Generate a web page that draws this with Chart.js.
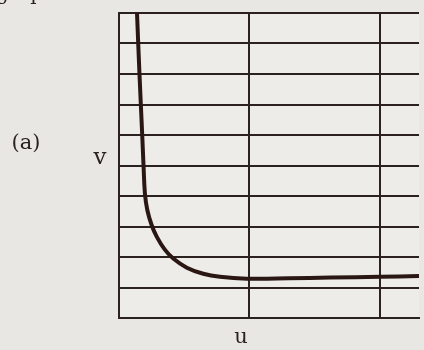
<!DOCTYPE html>
<html>
<head>
<meta charset="utf-8">
<script src="https://cdn.jsdelivr.net/npm/chart.js@4"></script>
<style>
  html, body { margin: 0; padding: 0; background: #e9e7e4; }
  #wrap { position: relative; width: 424px; height: 350px; overflow: hidden; }
  .lbl { position: absolute; font-family: "DejaVu Serif", serif; color: #2a2220; transform: translate(-50%, -50%); white-space: nowrap; }
</style>
</head>
<body>
<div id="wrap">
  <canvas id="myChart" width="424" height="350"></canvas>
  <div class="lbl" style="left:26px; top:-7px; font-size:20px;">graph</div>
  <div class="lbl" style="left:26px; top:142px; font-size:21px;">(a)</div>
  <div class="lbl" style="left:100px; top:156px; font-size:23px;">v</div>
  <div class="lbl" style="left:241px; top:336px; font-size:21px;">u</div>
</div>
<script>
// curve, u across, v up
const uValues = [0.138, 0.157, 0.178, 0.188, 0.199, 0.217, 0.25, 0.29, 0.35, 0.416, 0.52, 0.646, 0.774, 0.98, 1.3, 1.62, 2.0, 2.3];
const vValues = [10, 8, 6, 5, 4.07, 3.54, 3.05, 2.66, 2.25, 1.95, 1.65, 1.45, 1.35, 1.29, 1.3, 1.33, 1.35, 1.38];

const uTicks = [0, 1, 2];
const vTicks = [0, 1, 2, 3, 4, 5, 6, 7, 8, 9, 10];

const points = uValues.map((u, i) => ({x: u, y: vValues[i]}));

const lineColor = '#2b221f';

document.addEventListener('DOMContentLoaded', () => {
    const ctx = document.getElementById('myChart');
    new Chart(ctx, {
        type: 'line',
        data: {
            datasets: [{
                data: points,
                borderColor: '#2a1714',
                borderWidth: 4,
                pointRadius: 0,
                tension: 0.4,
                fill: false
            }]
        },
        options: {
            responsive: false,
            animation: false,
            events: [],
            layout: { padding: { left: 119, right: 5, top: 13, bottom: 32 } },
            plugins: { legend: { display: false }, tooltip: { enabled: false } },
            scales: {
                x: {
                    type: 'linear',
                    min: 0,
                    max: 2.3,
                    afterBuildTicks: s => { s.ticks = uTicks.map(v => ({value: v})); },
                    ticks: { display: false },
                    grid: { color: lineColor, lineWidth: 2, drawTicks: false },
                    border: { display: true, color: lineColor, width: 2 }
                },
                y: {
                    type: 'linear',
                    min: 0,
                    max: 10,
                    afterBuildTicks: s => { s.ticks = vTicks.map(v => ({value: v})); },
                    ticks: { display: false },
                    grid: { color: lineColor, lineWidth: 2, drawTicks: false },
                    border: { display: true, color: lineColor, width: 2 }
                }
            }
        },
        plugins: [{
            id: 'paper',
            beforeDraw(chart) {
                const a = chart.chartArea;
                const c = chart.ctx;
                c.save();
                c.fillStyle = '#eeece9';
                c.fillRect(a.left, a.top, a.right - a.left, a.bottom - a.top);
                c.restore();
            }
        }]
    });
});
</script>
</body>
</html>
